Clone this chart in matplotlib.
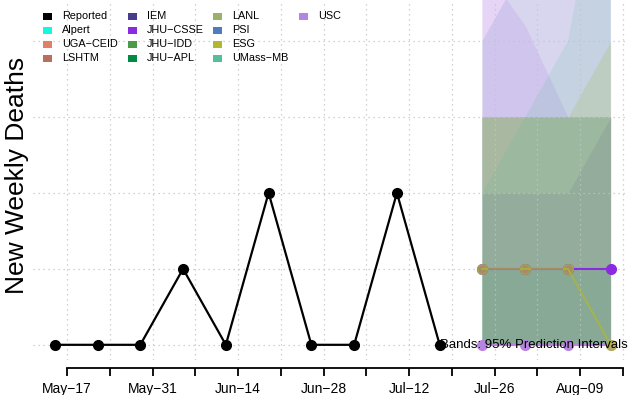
import numpy as np
import matplotlib
matplotlib.use("Agg")
import matplotlib.pyplot as plt
import matplotlib.dates as mdates
from matplotlib.patches import Rectangle

plt.rcParams['font.family'] = ['Liberation Sans', 'DejaVu Sans']

# reported weekly deaths
rep_dates = np.arange(np.datetime64('2020-05-15'), np.datetime64('2020-07-18'), 7)
rep_vals = [0, 0, 0, 1, 0, 2, 0, 0, 2, 0]

# forecast weeks
fc_dates = np.arange(np.datetime64('2020-07-24'), np.datetime64('2020-08-15'), 7)
csse_vals = [1, 1, 1, 1]
esg_vals = [1, 1, 1, 0]
usc_vals = [0, 0, 0, 0]

# 95% bands, upper limits (lower limits all 0)
band_models = ['USC', 'PSI', 'JHU-CSSE', 'ESG', 'LANL', 'JHU-IDD',
               'UMass-MB', 'IEM', 'JHU-APL']
band_lower = [0, 0, 0, 0]
band_upper = [
    [6, 6, 6, 6],
    [4.0, 5.0, 6, 6],
    [5.0, 4.2, 3.0, 3.0],
    [3, 3, 3, 4],
    [3, 3, 3, 3],
    [3, 3, 3, 3],
    [2, 3, 4, 7],
    [2, 2, 2, 3],
    [1, 1, 1, 1],
]
band_alpha = {'USC': 0.2, 'PSI': 0.15, 'JHU-CSSE': 0.09, 'ESG': 0.2, 'LANL': 0.2,
              'JHU-IDD': 0.18, 'UMass-MB': 0.15, 'IEM': 0.1, 'JHU-APL': 0.08}

models = ['Reported', 'Alpert', 'UGA-CEID', 'LSHTM', 'IEM', 'JHU-CSSE', 'JHU-IDD',
          'JHU-APL', 'LANL', 'PSI', 'ESG', 'UMass-MB', 'USC']
colors = ['#000000', '#1AF5E0', '#E0806A', '#B8705A', '#483D8B', '#8A2BE2', '#4A9A4A',
          '#008B45', '#9BB06B', '#4F7CBF', '#B0B832', '#55BF9A', '#B784E0']
col = dict(zip(models, colors))

tick_dates = np.arange(np.datetime64('2020-05-17'), np.datetime64('2020-08-17'), 7)

W, H = 628, 395
fig = plt.figure(figsize=(W / 100, H / 100), dpi=100)
ax = fig.add_axes([33 / W, 35 / H, 1 - 33 / W, 1 - 35 / H])

# bands
for m, hi in zip(band_models, band_upper):
    ax.fill_between(fc_dates, band_lower, hi, color=col[m], alpha=band_alpha[m], lw=0, zorder=1)

# forecasts
ax.plot(fc_dates, usc_vals, color=col['USC'], lw=1.5, marker='o', ms=7, zorder=3)
ax.plot(fc_dates, csse_vals, color=col['JHU-CSSE'], lw=1.5, marker='o', ms=7, zorder=3)
ax.plot(fc_dates, esg_vals, color=col['ESG'], lw=1.5, marker='o', ms=7, alpha=0.7, zorder=4)

ax.text(1.0, 0, 'Bands: 95% Prediction Intervals', transform=ax.get_yaxis_transform(),
        ha='right', va='center', fontsize=9.5, zorder=4.5)

# reported
ax.plot(rep_dates, rep_vals, color='black', lw=1.6, marker='o', ms=7, zorder=5)

ax.set_ylim(-0.2, 4.54)
ax.set_xlim(mdates.date2num(tick_dates[0]) - 5.56, mdates.date2num(tick_dates[-1]) + 0.82)

ax.set_yticks([0, 1, 2, 3, 4])
ax.set_xticks(tick_dates)
labs = [np.datetime_as_string(d, unit='D') for d in tick_dates]
month = {'05': 'May', '06': 'Jun', '07': 'Jul', '08': 'Aug'}
ax.set_xticklabels([month[s[5:7]] + '\u2212' + s[8:10] if i % 2 == 0 else ''
                    for i, s in enumerate(labs)], fontsize=11.5)
ax.grid(True, color='#C4C4C4', ls=(0, (1, 3)), lw=0.9, zorder=2)
ax.tick_params(axis='y', left=False, labelleft=False)
ax.tick_params(axis='x', length=6, width=1.3, pad=4)
for s in ['top', 'right', 'left']:
    ax.spines[s].set_visible(False)
ax.spines['bottom'].set_position(('outward', 6))
ax.spines['bottom'].set_linewidth(1.3)
ax.spines['bottom'].set_bounds(mdates.date2num(tick_dates[0]), mdates.date2num(tick_dates[-1]))

fig.text(17 / W, 1 - 175 / H, 'New Weekly Deaths', rotation=90, ha='center', va='center',
         fontsize=19)

# legend, 4 rows filled column by column
col_x = [43, 128, 213, 299]
row_y = [16, 30, 44, 58]
for i, m in enumerate(models):
    cx, ry = col_x[i // 4], row_y[i % 4]
    fig.add_artist(Rectangle((cx / W, 1 - (ry + 3.5) / H), 9 / W, 7 / H,
                             transform=fig.transFigure, facecolor=col[m], edgecolor='none'))
    fig.text((cx + 19) / W, 1 - ry / H, m.replace('-', '\u2212'), ha='left', va='center',
             fontsize=7.8)

fig.savefig('out.png', dpi=100)
